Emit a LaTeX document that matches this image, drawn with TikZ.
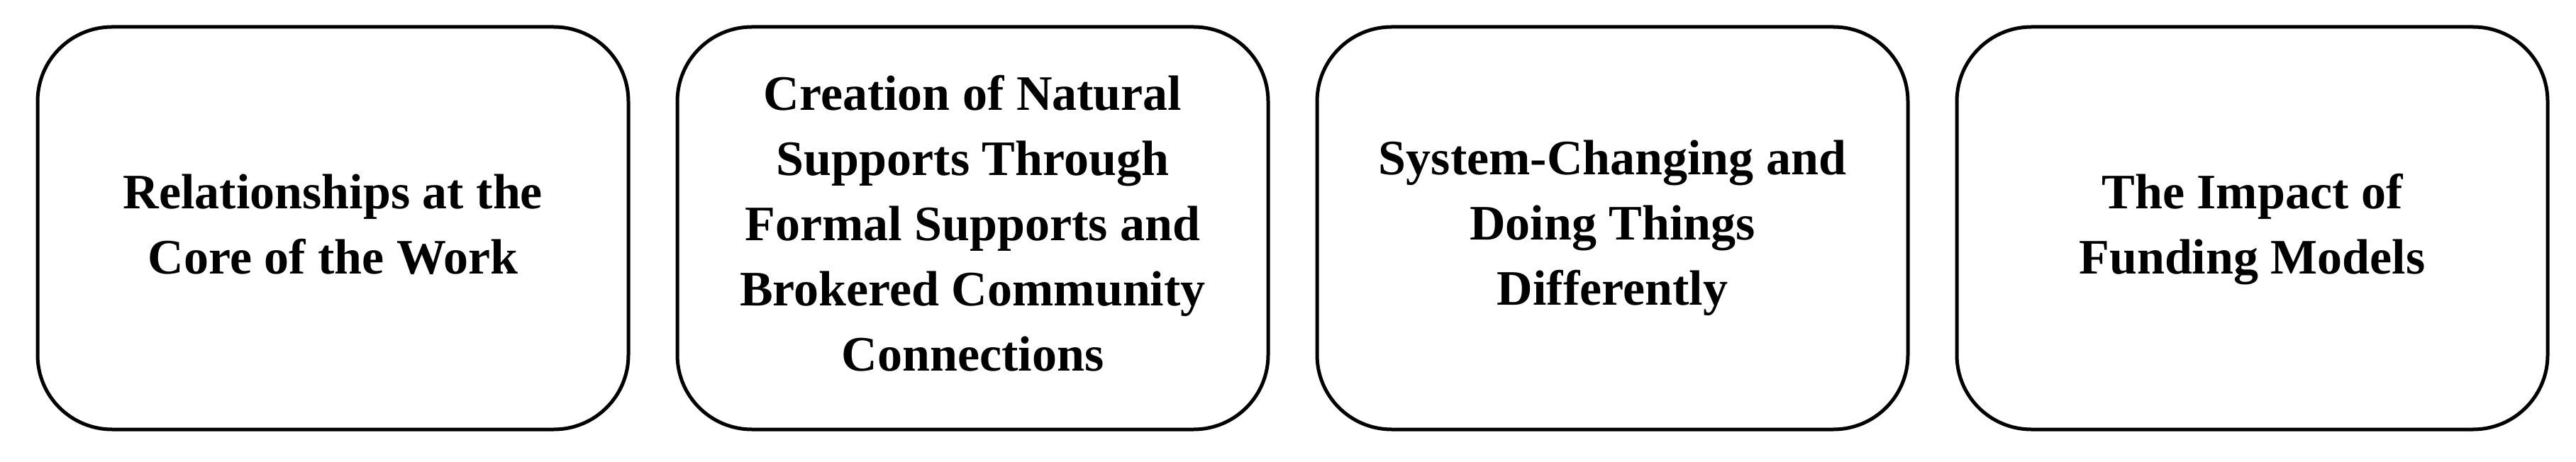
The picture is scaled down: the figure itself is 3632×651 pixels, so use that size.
\documentclass[tikz,border=0pt]{standalone}
\usepackage{fontspec}
\setmainfont{Liberation Serif}
\begin{document}
\begin{tikzpicture}[x=1pt,y=1pt,
  theme/.style={draw=black, line width=5pt, rounded corners=105pt,
    minimum width=833pt, minimum height=568pt, inner sep=0pt},
  label/.style={align=center, inner sep=0pt,
    font={\fontsize{70}{92}\selectfont\bfseries}}]
\fill[white] (0,0) rectangle (3632,651);
\useasboundingbox (0,0) rectangle (3632,651);
\node[theme] (t1) at (469.5,329) {};
\node[theme] (t2) at (1371.5,329) {};
\node[theme] (t3) at (2273.5,329) {};
\node[theme] (t4) at (3175.5,329) {};
\node[label] (l1) at ([yshift=5pt]t1.center) {Relationships at the\\Core of the Work};
\node[label] (l2) at ([yshift=7pt]t2.center) {Creation of Natural\\Supports Through\\Formal Supports and\\Brokered Community\\Connections};
\node[label] (l3) at (t3.center) {System-Changing and\\Doing Things\\Differently};
\node[label] (l4) at ([yshift=-2pt]t4.center) {The Impact of\\Funding Models};
\end{tikzpicture}
\end{document}
